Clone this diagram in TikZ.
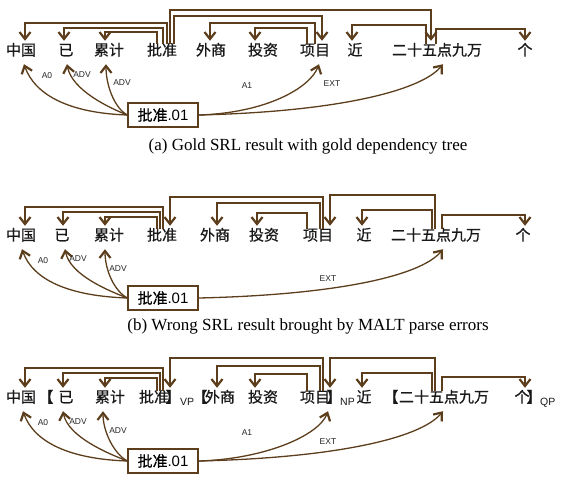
\documentclass[tikz,border=0pt]{standalone}
\usepackage{fontspec}
\setmainfont{Liberation Serif}
\newfontfamily\cjk[FakeBold=0.7]{Noto Sans CJK SC}
\newfontfamily\lab{Liberation Sans}
\usetikzlibrary{arrows.meta}
\definecolor{arc}{RGB}{92,62,28}
\tikzset{
  word/.style={font=\cjk\fontsize{15}{15}\selectfont, inner sep=0pt, anchor=base,
               text height=14.5pt, text depth=8.5pt, text=black!90},
  brk/.style={font=\cjk\fontsize{15}{15}\selectfont, inner sep=0pt, anchor=base, text=black!90},
  phr/.style={font=\lab\fontsize{10.5}{10.5}\selectfont, inner sep=0pt, anchor=base west, text=black!90},
  rolelab/.style={font=\lab\fontsize{8.5}{8.5}\selectfont, inner sep=0pt, text=black!85},
  pred/.style={draw=arc, line width=1.3pt, fill=white, minimum width=70pt, minimum height=24pt,
               inner sep=0pt, font=\cjk\fontsize{15}{15}\selectfont},
  captxt/.style={font=\fontsize{17}{20}\selectfont, inner sep=0pt, anchor=base},
  dep/.style={draw=arc, line width=1.3pt, -{Straight Barb[length=7pt,width=11pt,line width=2.2pt]}},
  srl/.style={draw=arc, line width=1.3pt, -{Straight Barb[length=7pt,width=11pt,line width=2.2pt]}},
}
\begin{document}
\begin{tikzpicture}[x=1pt,y=-1pt]
\useasboundingbox (0,0) rectangle (561,482);
% ---------------- panel (a) ----------------
\node[word] (a1) at (21,55.5) {中国};
\node[word] (a2) at (66,55.5) {已};
\node[word] (a3) at (109,55.5) {累计};
\node[word] (a4) at (162,55.5) {批准};
\node[word] (a5) at (211,55.5) {外商};
\node[word] (a6) at (263,55.5) {投资};
\node[word] (a7) at (315,55.5) {项目};
\node[word] (a8) at (355,55.5) {近};
\node[word] (a9) at (437,55.5) {二十五点九万};
\node[word] (a10) at (525,55.5) {个};
\draw[dep] ([yshift=-3pt]a4.north -| 167,0) |- (25,23) -- (a1.north -| 25,0);
\draw[dep] ([yshift=-3pt]a4.north -| 163,0) |- (64,28) -- (a2.north -| 64,0);
\draw[dep] ([yshift=-3pt]a4.north -| 157,0) |- (105,32) -- (a3.north -| 105,0);
\draw[dep] ([yshift=-3pt]a4.north -| 174,0) |- (322,16) -- (a7.north -| 322,0);
\draw[dep] ([yshift=-3pt]a4.north -| 170,0) |- (431,10) -- (a9.north -| 431,0);
\draw[dep] ([yshift=-3pt]a7.north -| 315,0) |- (210,23) -- (a5.north -| 210,0);
\draw[dep] ([yshift=-3pt]a7.north -| 307,0) |- (255,28) -- (a6.north -| 255,0);
\draw[dep] ([yshift=-3pt]a9.north -| 426,0) |- (352,25) -- (a8.north -| 352,0);
\draw[dep] ([yshift=-3pt]a9.north -| 436,0) |- (525,29) -- (a10.north -| 525,0);
\node[pred] (pa) at (163,115) {批准{\lab .01}};
\draw[srl] (pa.west) .. controls +(-58,-2) and +(11,31) .. (a1.south -| 24,0);
\draw[srl] (pa.west) .. controls +(-18,-7) and +(5,26) .. (a2.south -| 67,0);
\draw[srl] (pa.west) .. controls +(-13,-7) and +(0,21) .. (a3.south -| 106,0);
\draw[srl] (pa.east) .. controls +(67,-2) and +(-9,24) .. (a7.south -| 319,0);
\draw[srl] (pa.east) .. controls +(132,-3) and +(-23,28) .. (a9.south -| 443,0);
\node[rolelab] (la1) at (47,76) {A0};
\node[rolelab] (la2) at (82,75) {ADV};
\node[rolelab] (la3) at (122,83) {ADV};
\node[rolelab] (la4) at (247,86) {A1};
\node[rolelab] (la5) at (332,84) {EXT};
\node[captxt] (capa) at (308,150.5) {(a) Gold SRL result with gold dependency tree};
% ---------------- panel (b) ----------------
\node[word] (b1) at (21,240.5) {中国};
\node[word] (b2) at (62,240.5) {已};
\node[word] (b3) at (109,240.5) {累计};
\node[word] (b4) at (162,240.5) {批准};
\node[word] (b5) at (215,240.5) {外商};
\node[word] (b6) at (264,240.5) {投资};
\node[word] (b7) at (318,240.5) {项目};
\node[word] (b8) at (364,240.5) {近};
\node[word] (b9) at (436,240.5) {二十五点九万};
\node[word] (b10) at (523,240.5) {个};
\draw[dep] ([yshift=-3pt]b4.north -| 163,0) |- (25,207) -- (b1.north -| 25,0);
\draw[dep] ([yshift=-3pt]b4.north -| 160,0) |- (63,212) -- (b2.north -| 63,0);
\draw[dep] ([yshift=-3pt]b4.north -| 157,0) |- (105,217) -- (b3.north -| 105,0);
\draw[dep] ([yshift=-3pt]b7.north -| 323,0) |- (170,197) -- (b4.north -| 170,0);
\draw[dep] ([yshift=-3pt]b7.north -| 320,0) |- (217,203) -- (b5.north -| 217,0);
\draw[dep] ([yshift=-3pt]b7.north -| 307,0) |- (257,213) -- (b6.north -| 257,0);
\draw[dep] ([yshift=-3pt]b9.north -| 435,0) |- (330,195) -- (b7.north -| 330,0);
\draw[dep] ([yshift=-3pt]b9.north -| 432,0) |- (362,210) -- (b8.north -| 362,0);
\draw[dep] ([yshift=-3pt]b9.north -| 442,0) |- (525,215) -- (b10.north -| 525,0);
\node[pred] (pb) at (163,298) {批准{\lab .01}};
\draw[srl] (pb.west) .. controls +(-58,-2) and +(11,31) .. (b1.south -| 22,0);
\draw[srl] (pb.west) .. controls +(-18,-7) and +(5,26) .. (b2.south -| 65,0);
\draw[srl] (pb.west) .. controls +(-13,-7) and +(0,21) .. (b3.south -| 105,0);
\draw[srl] (pb.east) .. controls +(132,-3) and +(-23,28) .. (b9.south -| 443,0);
\node[rolelab] (lb1) at (43,261) {A0};
\node[rolelab] (lb2) at (78,259) {ADV};
\node[rolelab] (lb3) at (118,269) {ADV};
\node[rolelab] (lb5) at (328,279) {EXT};
\node[captxt] (capb) at (308,330) {(b) Wrong SRL result brought by MALT parse errors};
% ---------------- panel (c) ----------------
\node[word] (c1) at (21,402.5) {中国};
\node[brk] (c2l) at (46,402.5) {【};
\node[word] (c2) at (66,402.5) {已};
\node[word] (c3) at (110,402.5) {累计};
\node[word] (c4) at (154,402.5) {批准};
\node[brk] (c4r) at (173,402.5) {】};
\node[phr] (c4p) at (180,405.5) {VP};
\node[brk] (c5l) at (200,402.5) {【};
\node[word] (c5) at (220,402.5) {外商};
\node[word] (c6) at (263,402.5) {投资};
\node[word] (c7) at (315,402.5) {项目};
\node[brk] (c7r) at (334,402.5) {】};
\node[phr] (c7p) at (340,405.5) {NP};
\node[word] (c8) at (364,402.5) {近};
\node[brk] (c9l) at (391,402.5) {【};
\node[word] (c9) at (444,402.5) {二十五点九万};
\node[word] (c10) at (522,402.5) {个};
\node[brk] (c10r) at (534,402.5) {】};
\node[phr] (c10p) at (540,405.5) {QP};
\draw[dep] ([yshift=-3pt]c4.north -| 163,0) |- (25,368) -- (c1.north -| 25,0);
\draw[dep] ([yshift=-3pt]c4.north -| 160,0) |- (63,373) -- (c2.north -| 63,0);
\draw[dep] ([yshift=-3pt]c4.north -| 157,0) |- (105,378) -- (c3.north -| 105,0);
\draw[dep] ([yshift=-3pt]c7.north -| 323,0) |- (170,358) -- (c4.north -| 170,0);
\draw[dep] ([yshift=-3pt]c7.north -| 320,0) |- (217,366) -- (c5.north -| 217,0);
\draw[dep] ([yshift=-3pt]c7.north -| 307,0) |- (255,374) -- (c6.north -| 255,0);
\draw[dep] ([yshift=-3pt]c9.north -| 435,0) |- (330,358) -- (c7.north -| 330,0);
\draw[dep] ([yshift=-3pt]c9.north -| 432,0) |- (362,373) -- (c8.north -| 362,0);
\draw[dep] ([yshift=-3pt]c9.north -| 442,0) |- (525,377) -- (c10.north -| 525,0);
\node[pred] (pc) at (163,461) {批准{\lab .01}};
\draw[srl] (pc.west) .. controls +(-58,-2) and +(11,31) .. (c1.south -| 23,0);
\draw[srl] (pc.west) .. controls +(-18,-7) and +(5,26) .. (c2.south -| 63,0);
\draw[srl] (pc.west) .. controls +(-13,-7) and +(0,21) .. (c3.south -| 103,0);
\draw[srl] (pc.east) .. controls +(67,-2) and +(-9,24) .. (c7.south -| 328,0);
\draw[srl] (pc.east) .. controls +(132,-3) and +(-23,28) .. (c9.south -| 443,0);
\node[rolelab] (lc1) at (43,423) {A0};
\node[rolelab] (lc2) at (78,422) {ADV};
\node[rolelab] (lc3) at (118,431) {ADV};
\node[rolelab] (lc4) at (247,433) {A1};
\node[rolelab] (lc5) at (328,442) {EXT};
\end{tikzpicture}
\end{document}
